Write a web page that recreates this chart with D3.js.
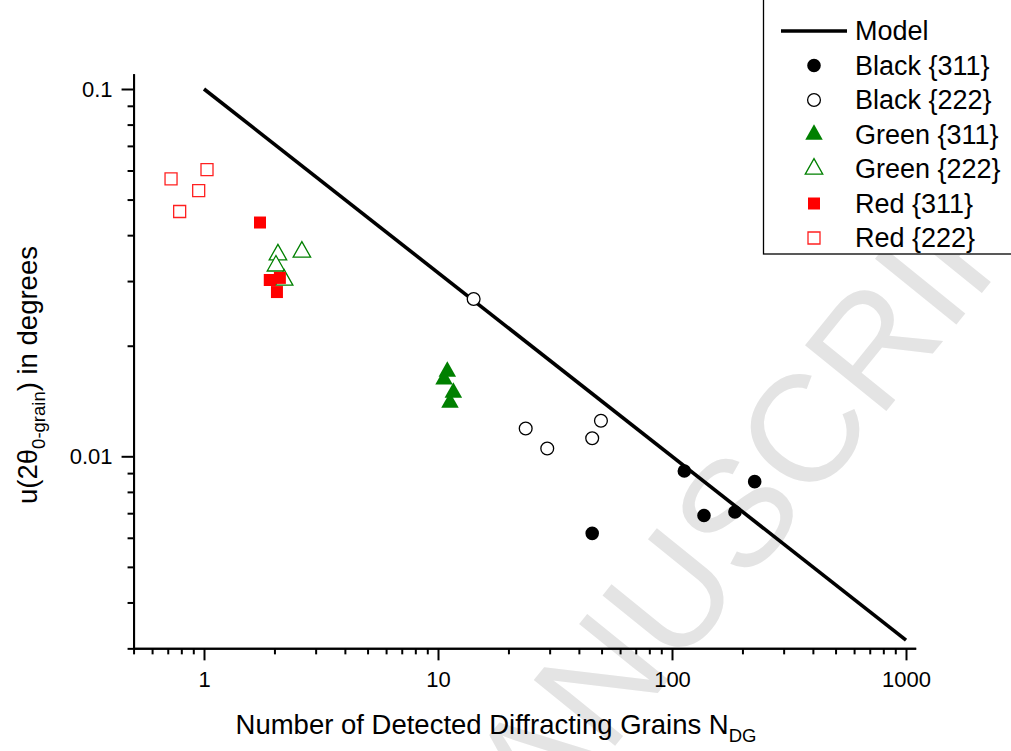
<!DOCTYPE html>
<html>
<head>
<meta charset="utf-8">
<script src="https://cdn.jsdelivr.net/npm/d3@7"></script>
<style>
  html, body { margin: 0; padding: 0; background: #fff; }
  svg { display: block; }
  text { font-family: "Liberation Sans", Arial, Helvetica, sans-serif; }
</style>
</head>
<body>
<svg id="chart" width="1011" height="751"></svg>
<script>
// ---- data: detected diffracting grains N vs. u(2θ) in degrees ----
const modelN = [1, 1000];
const modelU = [0.1, 0.00316];

const black311N = [112.9, 225.6, 137, 185.8, 45.6];
const black311U = [0.00912, 0.00853, 0.0069, 0.00705, 0.00617];

const black222N = [14.2, 23.7, 29.3, 49.7, 45.6];
const black222U = [0.0268, 0.0119, 0.0105, 0.0125, 0.0112];

const green311N = [10.96, 10.61, 11.63, 11.25];
const green311U = [0.0170, 0.0162, 0.0149, 0.0140];

const green222N = [2.07, 2.62, 2.03, 2.2];
const green222U = [0.0354, 0.0360, 0.0330, 0.0302];

const red311N = [1.735, 1.91, 2.11, 2.05];
const red311U = [0.0433, 0.0302, 0.0306, 0.0280];

const red222N = [0.723, 1.03, 0.949, 0.787];
const red222U = [0.0569, 0.0603, 0.0529, 0.0464];

const xMajorTicks = [1, 10, 100, 1000];
const xTickLabels = ["1", "10", "100", "1000"];
const yMajorTicks = [0.01, 0.1];
const yTickLabels = ["0.01", "0.1"];

const legendLabels = ["Model", "Black {311}", "Black {222}", "Green {311}", "Green {222}", "Red {311}", "Red {222}"];

// ---- layout ----
const svg = d3.select("#chart");
const xDomain = [0.5, 1100];
const yDomain = [0.003, 0.11];
const decX = 234, decY = 367.3;
const x = d3.scaleLog().domain(xDomain)
  .range([204 + Math.log10(xDomain[0]) * decX, 204 + Math.log10(xDomain[1]) * decX]);
const y = d3.scaleLog().domain(yDomain)
  .range([456.3 + (Math.log10(yDomain[0]) + 2) * -decY, 456.3 + (Math.log10(yDomain[1]) + 2) * -decY]);

const x0 = x.range()[0], yBottom = y.range()[0];

// minor ticks at 2..9 × each decade within the domain
function minorTicks(domain) {
  const out = [];
  for (let e = Math.floor(Math.log10(domain[0])); e <= Math.ceil(Math.log10(domain[1])); e++) {
    for (let m = 1; m <= 9; m++) {
      const v = +(m * Math.pow(10, e)).toPrecision(6);
      if (m !== 1 && v >= domain[0] - 1e-12 && v <= domain[1]) out.push(v);
    }
  }
  return out;
}

// ---- watermark (drawn underneath everything) ----
const wm = svg.append("g").attr("transform", "translate(672,596) rotate(-51)");
const wmFont = 152;
const probe = wm.append("text").attr("font-family", "Liberation Serif, Times New Roman, serif")
  .attr("font-size", wmFont).text("ACCEPTED MAN");
const preLen = probe.node().getComputedTextLength();
probe.text("U");
const uLen = probe.node().getComputedTextLength();
probe.remove();
wm.append("text")
  .attr("font-family", "Liberation Serif, Times New Roman, serif")
  .attr("font-size", wmFont)
  .attr("fill", "#e4e4e4")
  .attr("x", -(preLen + uLen / 2))
  .attr("y", wmFont * 0.33)
  .text("ACCEPTED MANUSCRIPT");

// ---- axes ----
const axisColor = "#000";
function styleAxis(g) {
  g.selectAll("path.domain").attr("stroke", axisColor).attr("stroke-width", 2);
  g.selectAll(".tick line").attr("stroke", axisColor).attr("stroke-width", 2);
  g.selectAll(".tick text").attr("fill", "#000").attr("font-size", 22)
    .attr("font-family", "Liberation Sans, Arial, sans-serif");
}

// x axis
svg.append("g").attr("transform", `translate(0,${yBottom})`)
  .call(d3.axisBottom(x).tickValues(minorTicks(xDomain)).tickSize(6).tickSizeOuter(0).tickFormat(""))
  .call(styleAxis);
svg.append("g").attr("transform", `translate(0,${yBottom})`)
  .call(d3.axisBottom(x).tickValues(xMajorTicks).tickSize(12).tickSizeOuter(0)
    .tickPadding(11).tickFormat((d, i) => xTickLabels[i]))
  .call(styleAxis);

// y axis
svg.append("g").attr("transform", `translate(${x0},0)`)
  .call(d3.axisLeft(y).tickValues(minorTicks(yDomain)).tickSize(6).tickSizeOuter(0).tickFormat(""))
  .call(styleAxis);
svg.append("g").attr("transform", `translate(${x0},0)`)
  .call(d3.axisLeft(y).tickValues(yMajorTicks).tickSize(12).tickSizeOuter(0)
    .tickPadding(9).tickFormat((d, i) => yTickLabels[i]))
  .call(styleAxis);

// axis titles
const xTitle = svg.append("text")
  .attr("x", 496).attr("y", 734)
  .attr("text-anchor", "middle").attr("font-size", 27.5).attr("fill", "#000");
xTitle.append("tspan").text("Number of Detected Diffracting Grains N");
xTitle.append("tspan").attr("font-size", 18.5).attr("dy", 8).text("DG");

const yTitle = svg.append("text")
  .attr("transform", "translate(37,375) rotate(-90)")
  .attr("text-anchor", "middle").attr("font-size", 27.5).attr("fill", "#000");
yTitle.append("tspan").text("u(2θ");
yTitle.append("tspan").attr("font-size", 18.5).attr("dy", 8).text("0-grain");
yTitle.append("tspan").attr("dy", -8).text(") in degrees");

// ---- model line ----
const line = d3.line().x(d => x(d[0])).y(d => y(d[1]));
svg.append("path")
  .datum(d3.zip(modelN, modelU))
  .attr("d", line)
  .attr("fill", "none").attr("stroke", "#000").attr("stroke-width", 3.6);

// ---- marker shapes ----
const triW = 17.5, triH = 15.5;
const trianglePath = `M0,${-triH * 2 / 3}L${triW / 2},${triH / 3}L${-triW / 2},${triH / 3}Z`;
const sq = 12;
const squarePath = `M${-sq / 2},${-sq / 2}h${sq}v${sq}h${-sq}Z`;
const circlePath = d3.symbol().type(d3.symbolCircle).size(Math.PI * 6.8 * 6.8)();

const series = [
  { N: black311N, U: black311U, path: circlePath, fill: "#000", stroke: "none", sw: 0 },
  { N: black222N, U: black222U, path: d3.symbol().type(d3.symbolCircle).size(Math.PI * 6.4 * 6.4)(), fill: "#fff", stroke: "#000", sw: 1.3 },
  { N: green311N, U: green311U, path: trianglePath, fill: "#008000", stroke: "none", sw: 0 },
  { N: green222N, U: green222U, path: trianglePath, fill: "#fff", stroke: "#008000", sw: 1.3 },
  { N: red311N, U: red311U, path: squarePath, fill: "#ff0000", stroke: "none", sw: 0 },
  { N: red222N, U: red222U, path: squarePath, fill: "#fff", stroke: "#ff2020", sw: 1.3 }
];

series.forEach(s => {
  svg.append("g").selectAll("path")
    .data(d3.zip(s.N, s.U))
    .join("path")
    .attr("d", s.path)
    .attr("transform", d => `translate(${x(d[0])},${y(d[1])})`)
    .attr("fill", s.fill)
    .attr("stroke", s.stroke)
    .attr("stroke-width", s.sw);
});

// ---- legend ----
const lg = svg.append("g");
lg.append("rect")
  .attr("x", 763.5).attr("y", -5).attr("width", 260).attr("height", 259)
  .attr("fill", "#fff").attr("stroke", "#000").attr("stroke-width", 1.3);
const rowY = i => 31 + i * 34.5;
lg.append("line").attr("x1", 781).attr("x2", 847).attr("y1", rowY(0)).attr("y2", rowY(0))
  .attr("stroke", "#000").attr("stroke-width", 3.6);
series.forEach((s, i) => {
  lg.append("path").attr("d", s.path)
    .attr("transform", `translate(814,${rowY(i + 1)})`)
    .attr("fill", s.fill).attr("stroke", s.stroke).attr("stroke-width", s.sw);
});
legendLabels.forEach((t, i) => {
  lg.append("text").attr("x", 855).attr("y", rowY(i)).attr("dy", "0.35em")
    .attr("font-size", 27).attr("fill", "#000").text(t);
});
</script>
</body>
</html>
